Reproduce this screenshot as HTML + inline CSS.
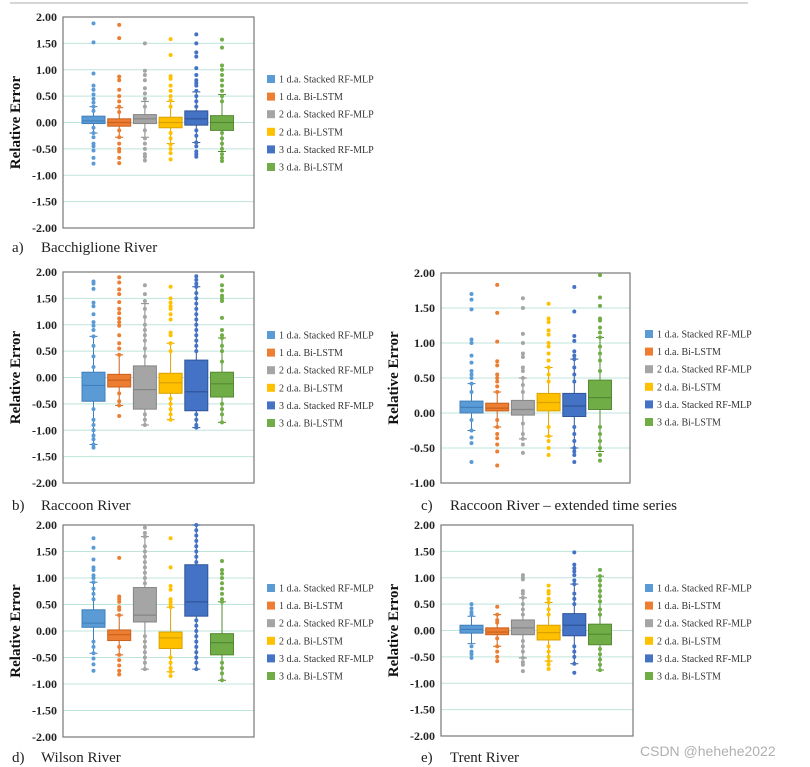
<!DOCTYPE html>
<html><head><meta charset="utf-8">
<style>
html,body{margin:0;padding:0;background:#fff;}
svg{display:block;}
</style></head>
<body>
<svg id="fig" width="810" height="767" xmlns="http://www.w3.org/2000/svg">
<line x1="10" y1="3" x2="748" y2="3" stroke="#c8c8c8" stroke-width="1.5"/>
<text x="640" y="756" font-family="Liberation Sans, sans-serif" font-size="14" fill="#b0b0b0">CSDN @hehehe2022</text>
</svg>
<script>
const seriesNames = ["1 d.a. Stacked RF-MLP","1 d.a. Bi-LSTM","2 d.a. Stacked RF-MLP","2 d.a. Bi-LSTM","3 d.a. Stacked RF-MLP","3 d.a. Bi-LSTM"];
const colors = ["#5B9BD5","#ED7D31","#A5A5A5","#FFC000","#4472C4","#70AD47"];
const edges = ["#3f7fbb","#c8621c","#858585","#d9a200","#2f559a","#548a33"];
// box stats per panel: [q1, median, q3, whiskerLow, whiskerHigh]
const statsA = [[-0.02,0.03,0.12,-0.2,0.3],[-0.07,0.0,0.07,-0.28,0.28],[-0.02,0.07,0.15,-0.28,0.4],[-0.1,0.0,0.1,-0.4,0.4],[-0.05,0.07,0.22,-0.38,0.58],[-0.15,0.0,0.13,-0.55,0.53]];
const statsB = [[-0.45,-0.15,0.1,-1.27,0.78],[-0.18,-0.05,0.06,-0.53,0.43],[-0.6,-0.23,0.22,-0.9,1.4],[-0.3,-0.1,0.08,-0.8,0.65],[-0.63,-0.27,0.33,-0.95,1.72],[-0.37,-0.12,0.1,-0.85,0.75]];
const statsC = [[0.0,0.08,0.17,-0.25,0.42],[0.03,0.07,0.14,-0.2,0.3],[-0.03,0.05,0.18,-0.37,0.5],[0.03,0.15,0.28,-0.33,0.65],[-0.05,0.1,0.28,-0.5,0.77],[0.05,0.22,0.47,-0.55,1.08]];
const statsD = [[0.07,0.15,0.4,-0.42,0.92],[-0.18,-0.07,0.02,-0.45,0.3],[0.17,0.3,0.82,-0.72,1.78],[-0.33,-0.13,-0.02,-0.77,0.45],[0.28,0.55,1.25,-0.72,2.0],[-0.45,-0.22,-0.05,-0.93,0.55]];
const statsE = [[-0.05,0.02,0.1,-0.25,0.27],[-0.08,-0.03,0.05,-0.3,0.3],[-0.08,0.05,0.2,-0.52,0.62],[-0.18,-0.04,0.1,-0.58,0.53],[-0.1,0.1,0.32,-0.63,0.88],[-0.27,-0.07,0.12,-0.75,1.03]];
// individual points per series
const ptsA = [[1.88,1.52,0.93,0.7,0.62,0.53,0.45,0.38,0.3,0.22,-0.1,-0.2,-0.28,-0.4,-0.45,-0.53,-0.67,-0.78],[1.85,1.6,0.87,0.8,0.62,0.5,0.4,0.3,0.2,-0.15,-0.28,-0.4,-0.5,-0.55,-0.67,-0.77],[1.5,0.98,0.9,0.8,0.65,0.55,0.45,0.3,-0.15,-0.3,-0.4,-0.5,-0.6,-0.65,-0.72],[1.58,1.28,0.88,0.83,0.7,0.6,0.5,0.42,0.3,-0.2,-0.3,-0.42,-0.5,-0.58,-0.7],[1.67,1.5,1.33,1.25,1.03,0.9,0.8,0.75,0.7,0.6,0.5,0.4,0.3,-0.15,-0.25,-0.38,-0.45,-0.55,-0.6,-0.65],[1.57,1.42,1.08,1.0,0.9,0.8,0.7,0.6,0.5,0.4,-0.2,-0.3,-0.4,-0.5,-0.6,-0.67,-0.73]];
const ptsB = [[1.82,1.78,1.68,1.42,1.35,1.2,1.05,0.98,0.9,0.78,0.6,0.4,0.2,-0.6,-0.8,-0.9,-1.0,-1.1,-1.17,-1.27,-1.33],[1.9,1.8,1.67,1.58,1.43,1.3,1.22,1.12,1.05,0.98,0.8,0.65,0.55,0.43,-0.3,-0.45,-0.53,-0.73],[1.75,1.58,1.45,1.3,1.15,1.0,0.9,0.8,0.7,0.55,0.4,-0.7,-0.8,-0.9],[1.72,1.5,1.42,1.35,1.3,1.2,1.1,0.85,0.8,0.65,0.5,-0.4,-0.5,-0.6,-0.7,-0.8],[1.92,1.85,1.78,1.72,1.6,1.5,1.4,1.3,1.2,1.1,1.0,0.9,0.8,0.7,0.6,0.5,-0.7,-0.8,-0.9,-0.95],[1.92,1.75,1.65,1.55,1.5,1.45,1.13,0.9,0.8,0.75,0.6,0.5,0.3,-0.5,-0.6,-0.7,-0.85]];
const ptsC = [[1.7,1.62,1.48,1.05,1.0,0.82,0.72,0.6,0.55,0.5,0.42,0.3,-0.1,-0.25,-0.35,-0.43,-0.7],[1.83,1.43,1.02,0.74,0.68,0.55,0.5,0.45,0.38,0.3,-0.1,-0.2,-0.3,-0.36,-0.45,-0.55,-0.75],[1.64,1.5,1.13,1.0,0.85,0.8,0.65,0.6,0.5,0.4,0.3,-0.15,-0.3,-0.37,-0.45,-0.57],[1.56,1.35,1.3,1.18,1.12,1.0,0.95,0.85,0.75,0.65,0.55,0.45,-0.2,-0.33,-0.4,-0.5,-0.6],[1.8,1.45,1.1,1.03,0.88,0.82,0.77,0.65,0.55,0.45,-0.2,-0.3,-0.4,-0.5,-0.55,-0.6,-0.7],[1.97,1.65,1.53,1.35,1.32,1.22,1.15,1.08,0.95,0.85,0.75,0.6,-0.2,-0.3,-0.4,-0.5,-0.6,-0.68]];
const ptsD = [[1.75,1.57,1.35,1.2,1.15,1.05,1.0,0.92,0.8,0.7,0.6,-0.2,-0.3,-0.42,-0.52,-0.63,-0.75],[1.38,0.65,0.6,0.55,0.45,0.4,0.3,-0.3,-0.45,-0.55,-0.65,-0.75,-0.82],[1.95,1.85,1.78,1.6,1.5,1.4,1.3,1.2,1.1,1.0,0.9,-0.1,-0.2,-0.3,-0.4,-0.5,-0.6,-0.72],[1.75,1.2,0.85,0.78,0.6,0.55,0.5,0.45,-0.5,-0.6,-0.7,-0.77,-0.85],[2.0,1.9,1.8,1.7,1.6,1.5,1.4,1.3,0.2,0.1,0.0,-0.1,-0.2,-0.3,-0.4,-0.5,-0.6,-0.72],[1.32,1.15,1.08,1.0,0.9,0.8,0.7,0.6,0.55,-0.6,-0.7,-0.8,-0.93]];
const ptsE = [[0.5,0.42,0.35,0.3,-0.3,-0.4,-0.45,-0.52],[0.45,0.3,0.2,0.15,-0.15,-0.3,-0.4,-0.5,-0.58],[1.05,1.0,0.97,0.75,0.7,0.62,0.5,0.4,0.3,-0.2,-0.3,-0.4,-0.52,-0.6,-0.65,-0.77],[0.85,0.75,0.7,0.6,0.53,0.4,0.3,-0.3,-0.4,-0.5,-0.58,-0.65,-0.73],[1.48,1.25,1.18,1.12,1.05,0.95,0.88,0.7,0.6,0.5,-0.3,-0.4,-0.5,-0.63,-0.8],[1.15,1.03,0.95,0.85,0.75,0.65,0.55,0.4,0.3,-0.35,-0.45,-0.55,-0.65,-0.75]];
const ticksFull = [2,1.5,1,0.5,0,-0.5,-1,-1.5,-2];
const ticksC = [2,1.5,1,0.5,0,-0.5,-1];
const panelLabels = ["a)","b)","c)","d)","e)"];
const panelTitles = ["Bacchiglione River","Raccoon River","Raccoon River \u2013 extended time series","Wilson River","Trent River"];

const NS="http://www.w3.org/2000/svg";
const svg=document.getElementById('fig');
function mk(tag,attrs,parent){const e=document.createElementNS(NS,tag);for(const k in attrs)e.setAttribute(k,attrs[k]);(parent||svg).appendChild(e);return e;}

const layouts=[
 {x0:63,x1:254,y0:17,y1:228,max:2,min:-2,ticks:ticksFull,stats:statsA,pts:ptsA,legX:267,legY:79,labX:12,labY:252,titleX:20},
 {x0:63,x1:254,y0:272,y1:483,max:2,min:-2,ticks:ticksFull,stats:statsB,pts:ptsB,legX:267,legY:335,labX:12,labY:510,titleX:20},
 {x0:441,x1:630,y0:273,y1:483,max:2,min:-1,ticks:ticksC,stats:statsC,pts:ptsC,legX:645,legY:334,labX:421,labY:510,titleX:398},
 {x0:63,x1:254,y0:525,y1:737,max:2,min:-2,ticks:ticksFull,stats:statsD,pts:ptsD,legX:267,legY:588,labX:12,labY:762,titleX:20},
 {x0:441,x1:633,y0:525,y1:736,max:2,min:-2,ticks:ticksFull,stats:statsE,pts:ptsE,legX:645,legY:588,labX:421,labY:762,titleX:398}
];

layouts.forEach((L,p)=>{
  const g=mk('g',{});
  
  
  const yS=v=>L.y0+(L.max-v)/(L.max-L.min)*(L.y1-L.y0);
  const xS=i=>L.x0+30.5+25.7*i;
  // gridlines & ticks
  L.ticks.forEach(t=>{
    const gl=mk('line',{x1:L.x0,x2:L.x1,y1:yS(t),y2:yS(t),stroke:'#bfe4dc','stroke-width':1},g);
    
    
    const tl=mk('text',{x:L.x0-6,y:yS(t)+4,'text-anchor':'end','font-family':'Liberation Serif, serif','font-size':12,'font-weight':'bold',fill:'#222'},g);
    tl.textContent=t.toFixed(2);
    
    
  });
  const fr=mk('rect',{x:L.x0,y:L.y0,width:L.x1-L.x0,height:L.y1-L.y0,fill:'none',stroke:'#777','stroke-width':1.2},g);
  
  
  // y-axis title
  const cy=(L.y0+L.y1)/2;
  const yt=mk('text',{x:L.titleX,y:cy,transform:`rotate(-90 ${L.titleX} ${cy})`,'text-anchor':'middle','font-family':'Liberation Serif, serif','font-size':15,'font-weight':'bold',fill:'#111'},g);
  yt.textContent='Relative Error';
  
  
  // boxes
  L.stats.forEach((s,i)=>{
    const cx=xS(i),w=23;
    const wl=mk('line',{x1:cx,x2:cx,y1:yS(s[4]),y2:yS(s[3]),stroke:edges[i],'stroke-width':1},g);
    
    
    [s[3],s[4]].forEach(v=>{
      const c=mk('line',{x1:cx-4,x2:cx+4,y1:yS(v),y2:yS(v),stroke:edges[i],'stroke-width':1},g);
      
      
    });
    const b=mk('rect',{x:cx-w/2,y:yS(s[2]),width:w,height:yS(s[0])-yS(s[2]),fill:colors[i],stroke:edges[i],'stroke-width':1},g);
    
    
    L.pts[i].forEach(v=>{
      const d=mk('circle',{cx:cx,cy:yS(v),r:2,fill:colors[i]},g);
      
      
    });
    const m=mk('line',{x1:cx-w/2,x2:cx+w/2,y1:yS(s[1]),y2:yS(s[1]),stroke:edges[i],'stroke-width':1.2},g);
    
    
  });
  // legend
  seriesNames.forEach((n,i)=>{
    const y=L.legY+i*17.6;
    const sq=mk('rect',{x:L.legX,y:y-4,width:8,height:8,fill:colors[i]},g);
    
    
    const t=mk('text',{x:L.legX+12,y:y+3.5,'font-family':'Liberation Serif, serif','font-size':10,fill:'#333'},g);
    t.textContent=n;
    
    
  });
  // panel caption
  const cap=mk('text',{x:L.labX,y:L.labY,'font-family':'Liberation Serif, serif','font-size':15,fill:'#222'},g);
  
  
  const a=mk('tspan',{},cap); a.textContent=panelLabels[p];
  const b2=mk('tspan',{x:L.labX+29},cap); b2.textContent=panelTitles[p];
});
</script>
</body></html>
